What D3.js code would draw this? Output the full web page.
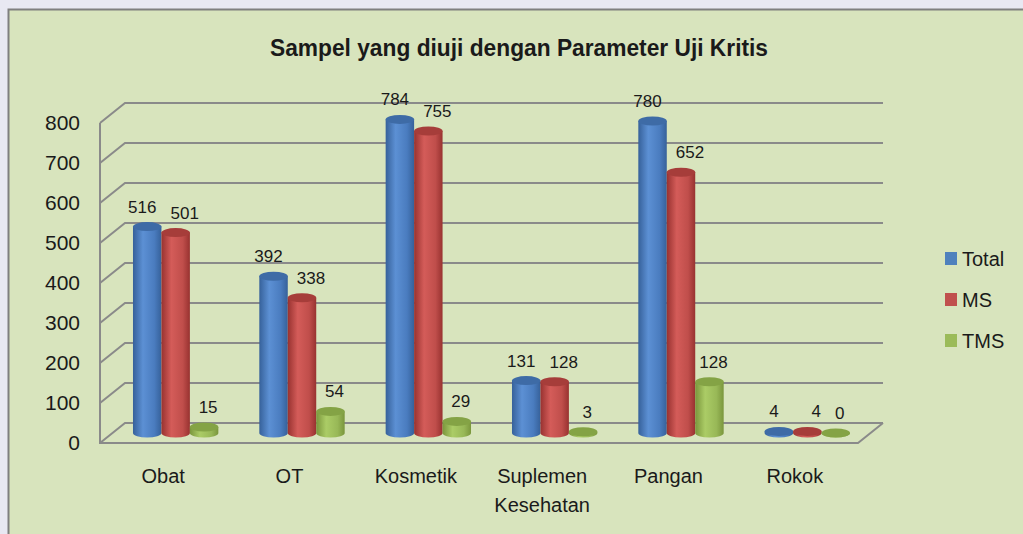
<!DOCTYPE html>
<html>
<head>
<meta charset="utf-8">
<script src="https://d3js.org/d3.v7.min.js"></script>
<style>
  html, body { margin: 0; padding: 0; background: #e8e8f2; }
  svg text { font-family: "Liberation Sans", Arial, sans-serif; fill: #1a1a1a; }
</style>
</head>
<body>
<div id="chart"></div>
<script>
  // data
  const categories = ["Obat", "OT", "Kosmetik", "Suplemen Kesehatan", "Pangan", "Rokok"];
  const seriesNames = ["Total", "MS", "TMS"];
  const totalValues = [516, 392, 784, 131, 780, 4];
  const msValues = [501, 338, 755, 128, 652, 4];
  const tmsValues = [15, 54, 29, 3, 128, 0];
  const yTicks = [0, 100, 200, 300, 400, 500, 600, 700, 800];

  const width = 1023;
  const height = 534;

  const svg = d3.select("#chart")
    .append("svg")
    .attr("width", width)
    .attr("height", height);

  // panel
  svg.append("rect")
    .attr("x", 8.5).attr("y", 9.5)
    .attr("width", 1040).attr("height", 560)
    .attr("fill", "#d8e4bd")
    .attr("stroke", "#7f7f7f")
    .attr("stroke-width", 2);

  // title
  svg.append("text")
    .attr("x", 519)
    .attr("y", 56)
    .attr("text-anchor", "middle")
    .attr("textLength", 498)
    .attr("lengthAdjust", "spacingAndGlyphs")
    .style("font-size", "23px")
    .style("font-weight", "bold")
    .text("Sampel yang diuji dengan Parameter Uji Kritis");

  const x = d3.scaleBand().domain(categories).range([100, 858]);
  const xs = d3.scaleBand().domain(seriesNames).range([0, x.bandwidth()])
    .paddingInner(0).paddingOuter(0.72);
  const y = d3.scaleLinear().domain([0, 800]).range([443, 123]);
  const depthX = 25, depthY = -20;

  const colors = {
    Total: { dark: "#36619a", light: "#5c90d4", mid: "#4a7cbf", top: "#3e6ba6", key: "#4f81bd" },
    MS:    { dark: "#983230", light: "#d45c59", mid: "#c04e4b", top: "#a63d3a", key: "#c0504d" },
    TMS:   { dark: "#7a963c", light: "#abcc66", mid: "#98b857", top: "#84a345", key: "#9bbb59" }
  };

  const defs = svg.append("defs");
  seriesNames.forEach(s => {
    const g = defs.append("linearGradient").attr("id", "grad-" + s)
      .attr("x1", "0%").attr("x2", "100%").attr("y1", "0%").attr("y2", "0%");
    g.append("stop").attr("offset", "0%").attr("stop-color", colors[s].dark);
    g.append("stop").attr("offset", "35%").attr("stop-color", colors[s].light);
    g.append("stop").attr("offset", "75%").attr("stop-color", colors[s].mid);
    g.append("stop").attr("offset", "100%").attr("stop-color", colors[s].dark);
  });

  // walls and gridlines
  const grid = svg.append("g")
    .attr("fill", "none")
    .attr("stroke", "#8a8a8a")
    .attr("stroke-width", 2);

  grid.selectAll(".gl")
    .data(yTicks)
    .enter().append("path")
    .attr("class", "gl")
    .attr("d", d => `M${x.range()[0]},${y(d)} l${depthX},${depthY} L${x.range()[1] + depthX},${y(d) + depthY}`);

  grid.append("path")
    .attr("d", `M${x.range()[0]},${y(800)} V${y(0)} H${x.range()[1]} l${depthX},${depthY}`);

  // y axis labels
  svg.append("g")
    .attr("transform", `translate(${x.range()[0]},0)`)
    .call(d3.axisLeft(y).tickValues(yTicks).tickSize(0).tickPadding(20))
    .call(g => g.select(".domain").remove())
    .selectAll("text")
    .style("font-size", "21px")
    .style("font-family", "Liberation Sans, Arial, sans-serif")
    .attr("fill", "#1a1a1a");

  // x axis labels
  const xAxis = svg.append("g")
    .attr("transform", `translate(0,${y(0)})`)
    .call(d3.axisBottom(x).tickSize(0).tickPadding(0))
    .call(g => g.select(".domain").remove());

  xAxis.selectAll("text")
    .style("font-size", "20px")
    .style("font-family", "Liberation Sans, Arial, sans-serif")
    .attr("fill", "#1a1a1a")
    .attr("dy", null)
    .attr("y", 40)
    .each(function (d) {
      const words = d.split(" ");
      const t = d3.select(this).text(null);
      words.forEach((w, i) => {
        t.append("tspan").attr("x", 0).attr("dy", i === 0 ? 0 : 29).text(w);
      });
    });

  // cylinders
  const rows = categories.map((c, i) => ({
    cat: c,
    values: [
      { s: "Total", v: totalValues[i] },
      { s: "MS", v: msValues[i] },
      { s: "TMS", v: tmsValues[i] }
    ]
  }));

  const rx = xs.bandwidth() / 2;
  const ry = 4.5;
  const labelDx = { Total: -5, MS: 9, TMS: 4 };

  const groups = svg.selectAll(".cat")
    .data(rows)
    .enter().append("g")
    .attr("class", "cat")
    .attr("transform", d => `translate(${x(d.cat) + depthX / 2},${depthY / 2})`);

  const bars = groups.selectAll(".bar")
    .data(d => d.values)
    .enter().append("g")
    .attr("class", "bar");

  bars.append("path")
    .attr("fill", d => `url(#grad-${d.s})`)
    .attr("d", d => {
      const cx = xs(d.s) + rx;
      const top = y(d.v), base = y(0);
      return `M${cx - rx},${top} L${cx - rx},${base} A${rx},${ry} 0 0 0 ${cx + rx},${base} L${cx + rx},${top} Z`;
    });

  bars.append("ellipse")
    .attr("cx", d => xs(d.s) + rx)
    .attr("cy", d => y(d.v))
    .attr("rx", rx)
    .attr("ry", ry)
    .attr("fill", d => colors[d.s].top);

  groups.selectAll(".lbl")
    .data(d => d.values)
    .enter().append("text")
    .attr("class", "lbl")
    .attr("x", d => xs(d.s) + rx + labelDx[d.s])
    .attr("y", d => y(d.v) - 20)
    .attr("dy", "0.35em")
    .attr("text-anchor", "middle")
    .style("font-size", "17px")
    .text(d => d.v);

  // legend
  const legend = svg.append("g").attr("transform", "translate(945,259)");
  const items = legend.selectAll(".item")
    .data(seriesNames)
    .enter().append("g")
    .attr("class", "item")
    .attr("transform", (d, i) => `translate(0,${i * 41})`);

  items.append("rect")
    .attr("x", 0).attr("y", -7)
    .attr("width", 12).attr("height", 13)
    .attr("fill", d => colors[d].key);

  items.append("text")
    .attr("x", 17)
    .attr("dy", "0.35em")
    .style("font-size", "20px")
    .text(d => d);
</script>
</body>
</html>
